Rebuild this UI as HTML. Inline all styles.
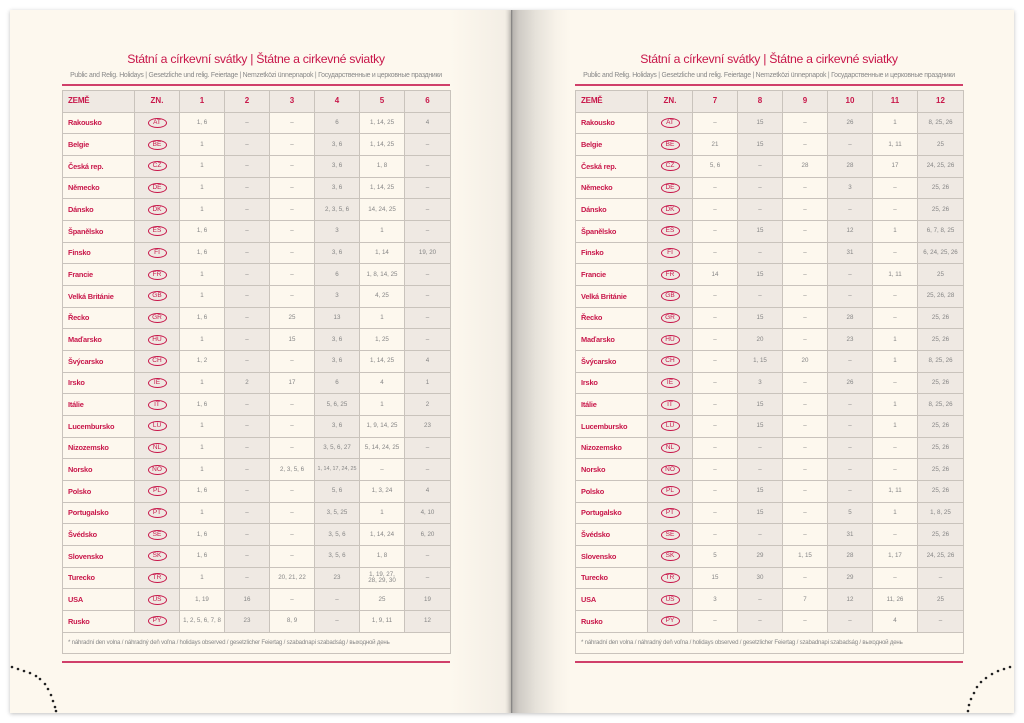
<!DOCTYPE html>
<html><head><meta charset="utf-8"><style>
*{margin:0;padding:0;box-sizing:border-box}
body{width:1024px;height:723px;background:#fff;position:relative;overflow:hidden;font-family:"Liberation Sans",sans-serif}
.pg{position:absolute;top:10px;height:703px;background:#fdf8ee;box-shadow:0 1px 4px rgba(0,0,0,.25)}
#L{left:10px;width:501px;background:linear-gradient(to right,#fdf8ee 0,#fdf8ee 440px,#f3eee5 495px,#d8d3cc 500px)}
#R{left:511px;width:503px;background:linear-gradient(to right,#777 0,#b9b5b0 2px,#cfcbc5 8px,#e6e2da 25px,#f7f2e9 45px,#fdf8ee 60px)}
.t{position:absolute;top:52px;font-size:12.3px;color:#c8174a;text-align:center;width:390px;letter-spacing:-.3px}
.s{position:absolute;top:72px;font-size:6.9px;color:#888;width:390px;text-align:center;letter-spacing:-.25px;white-space:nowrap}
.rl{position:absolute;top:84px;height:2px;background:#d0406a;width:388px}
.rl2{position:absolute;top:661px;height:2px;background:#d0406a;width:388px}
table{position:absolute;top:90px;border-collapse:collapse;table-layout:fixed;width:388px}
td{border:1px solid #c9c3bc;height:21.68px;font-size:6.2px;color:#858585;text-align:center;vertical-align:middle;line-height:1;overflow:hidden;white-space:nowrap}
td:nth-child(1){text-align:left;padding-left:5px;color:#c8174a;font-size:7.4px;font-weight:bold;letter-spacing:-.2px}
td:nth-child(2),td:nth-child(4),td:nth-child(6),td:nth-child(8){background:#efe9e3}
tr.h td{background:#efe9e3;color:#c8174a;font-size:8px;font-weight:bold}
td.f{text-align:left;padding-left:5px;color:#888;font-size:6.1px;font-weight:normal;background:#fdf8ee!important}
i{display:inline-block;vertical-align:middle;font-style:normal;border:1px solid #c8174a;border-radius:50%;color:#c8174a;font-size:6.5px;width:19px;height:10px;line-height:7.5px;text-align:center}
</style></head><body>
<div class="pg" id="L"></div><div class="pg" id="R"></div>
<svg style="position:absolute;left:0;top:0" width="1024" height="723">
<g fill="#222"><circle cx="12" cy="667" r="1.3"/><circle cx="18" cy="669" r="1.3"/><circle cx="24" cy="671" r="1.3"/><circle cx="30" cy="673" r="1.3"/><circle cx="36" cy="676" r="1.3"/><circle cx="40" cy="679" r="1.3"/><circle cx="45" cy="684" r="1.3"/><circle cx="48" cy="689" r="1.3"/><circle cx="51" cy="695" r="1.3"/><circle cx="53" cy="701" r="1.3"/><circle cx="55" cy="707" r="1.3"/><circle cx="56" cy="711" r="1.3"/>
<circle cx="1010" cy="667" r="1.3"/><circle cx="1004" cy="669" r="1.3"/><circle cx="998" cy="671" r="1.3"/><circle cx="992" cy="674" r="1.3"/><circle cx="986" cy="678" r="1.3"/><circle cx="981" cy="682" r="1.3"/><circle cx="977" cy="687" r="1.3"/><circle cx="974" cy="693" r="1.3"/><circle cx="971" cy="699" r="1.3"/><circle cx="969" cy="705" r="1.3"/><circle cx="968" cy="711" r="1.3"/></g></svg>

<div class="t" style="left:61px">Státní a církevní svátky | Štátne a cirkevné sviatky</div>
<div class="s" style="left:61px">Public and Relig. Holidays | Gesetzliche und relig. Feiertage | Nemzetközi ünnepnapok | Государственные и церковные праздники</div>
<div class="rl" style="left:62px"></div>
<div class="rl2" style="left:62px"></div>
<table style="left:62px"><colgroup><col style="width:72px"><col style="width:45px"><col style="width:45px"><col style="width:45px"><col style="width:45px"><col style="width:45px"><col style="width:45px"><col style="width:46px"></colgroup>
<tr class="h"><td>ZEMĚ</td><td>ZN.</td><td>1</td><td>2</td><td>3</td><td>4</td><td>5</td><td>6</td></tr>
<tr><td>Rakousko</td><td><i>AT</i></td><td>1, 6</td><td>–</td><td>–</td><td>6</td><td>1, 14, 25</td><td>4</td></tr>
<tr><td>Belgie</td><td><i>BE</i></td><td>1</td><td>–</td><td>–</td><td>3, 6</td><td>1, 14, 25</td><td>–</td></tr>
<tr><td>Česká rep.</td><td><i>CZ</i></td><td>1</td><td>–</td><td>–</td><td>3, 6</td><td>1, 8</td><td>–</td></tr>
<tr><td>Německo</td><td><i>DE</i></td><td>1</td><td>–</td><td>–</td><td>3, 6</td><td>1, 14, 25</td><td>–</td></tr>
<tr><td>Dánsko</td><td><i>DK</i></td><td>1</td><td>–</td><td>–</td><td>2, 3, 5, 6</td><td>14, 24, 25</td><td>–</td></tr>
<tr><td>Španělsko</td><td><i>ES</i></td><td>1, 6</td><td>–</td><td>–</td><td>3</td><td>1</td><td>–</td></tr>
<tr><td>Finsko</td><td><i>FI</i></td><td>1, 6</td><td>–</td><td>–</td><td>3, 6</td><td>1, 14</td><td>19, 20</td></tr>
<tr><td>Francie</td><td><i>FR</i></td><td>1</td><td>–</td><td>–</td><td>6</td><td>1, 8, 14, 25</td><td>–</td></tr>
<tr><td>Velká Británie</td><td><i>GB</i></td><td>1</td><td>–</td><td>–</td><td>3</td><td>4, 25</td><td>–</td></tr>
<tr><td>Řecko</td><td><i>GR</i></td><td>1, 6</td><td>–</td><td>25</td><td>13</td><td>1</td><td>–</td></tr>
<tr><td>Maďarsko</td><td><i>HU</i></td><td>1</td><td>–</td><td>15</td><td>3, 6</td><td>1, 25</td><td>–</td></tr>
<tr><td>Švýcarsko</td><td><i>CH</i></td><td>1, 2</td><td>–</td><td>–</td><td>3, 6</td><td>1, 14, 25</td><td>4</td></tr>
<tr><td>Irsko</td><td><i>IE</i></td><td>1</td><td>2</td><td>17</td><td>6</td><td>4</td><td>1</td></tr>
<tr><td>Itálie</td><td><i>IT</i></td><td>1, 6</td><td>–</td><td>–</td><td>5, 6, 25</td><td>1</td><td>2</td></tr>
<tr><td>Lucembursko</td><td><i>LU</i></td><td>1</td><td>–</td><td>–</td><td>3, 6</td><td>1, 9, 14, 25</td><td>23</td></tr>
<tr><td>Nizozemsko</td><td><i>NL</i></td><td>1</td><td>–</td><td>–</td><td>3, 5, 6, 27</td><td>5, 14, 24, 25</td><td>–</td></tr>
<tr><td>Norsko</td><td><i>NO</i></td><td>1</td><td>–</td><td>2, 3, 5, 6</td><td style="font-size:5.4px">1, 14, 17, 24, 25</td><td>–</td><td>–</td></tr>
<tr><td>Polsko</td><td><i>PL</i></td><td>1, 6</td><td>–</td><td>–</td><td>5, 6</td><td>1, 3, 24</td><td>4</td></tr>
<tr><td>Portugalsko</td><td><i>PT</i></td><td>1</td><td>–</td><td>–</td><td>3, 5, 25</td><td>1</td><td>4, 10</td></tr>
<tr><td>Švédsko</td><td><i>SE</i></td><td>1, 6</td><td>–</td><td>–</td><td>3, 5, 6</td><td>1, 14, 24</td><td>6, 20</td></tr>
<tr><td>Slovensko</td><td><i>SK</i></td><td>1, 6</td><td>–</td><td>–</td><td>3, 5, 6</td><td>1, 8</td><td>–</td></tr>
<tr><td>Turecko</td><td><i>TR</i></td><td>1</td><td>–</td><td>20, 21, 22</td><td>23</td><td>1, 19, 27,<br>28, 29, 30</td><td>–</td></tr>
<tr><td>USA</td><td><i>US</i></td><td>1, 19</td><td>16</td><td>–</td><td>–</td><td>25</td><td>19</td></tr>
<tr><td>Rusko</td><td><i>PY</i></td><td>1, 2, 5, 6, 7, 8</td><td>23</td><td>8, 9</td><td>–</td><td>1, 9, 11</td><td>12</td></tr>
<tr><td class="f" colspan="8">* náhradní den volna / náhradný deň voľna / holidays observed / gesetzlicher Feiertag / szabadnapi szabadság / выходной день</td></tr>
</table>

<div class="t" style="left:574px">Státní a církevní svátky | Štátne a cirkevné sviatky</div>
<div class="s" style="left:574px">Public and Relig. Holidays | Gesetzliche und relig. Feiertage | Nemzetközi ünnepnapok | Государственные и церковные праздники</div>
<div class="rl" style="left:575px"></div>
<div class="rl2" style="left:575px"></div>
<table style="left:575px"><colgroup><col style="width:72px"><col style="width:45px"><col style="width:45px"><col style="width:45px"><col style="width:45px"><col style="width:45px"><col style="width:45px"><col style="width:46px"></colgroup>
<tr class="h"><td>ZEMĚ</td><td>ZN.</td><td>7</td><td>8</td><td>9</td><td>10</td><td>11</td><td>12</td></tr>
<tr><td>Rakousko</td><td><i>AT</i></td><td>–</td><td>15</td><td>–</td><td>26</td><td>1</td><td>8, 25, 26</td></tr>
<tr><td>Belgie</td><td><i>BE</i></td><td>21</td><td>15</td><td>–</td><td>–</td><td>1, 11</td><td>25</td></tr>
<tr><td>Česká rep.</td><td><i>CZ</i></td><td>5, 6</td><td>–</td><td>28</td><td>28</td><td>17</td><td>24, 25, 26</td></tr>
<tr><td>Německo</td><td><i>DE</i></td><td>–</td><td>–</td><td>–</td><td>3</td><td>–</td><td>25, 26</td></tr>
<tr><td>Dánsko</td><td><i>DK</i></td><td>–</td><td>–</td><td>–</td><td>–</td><td>–</td><td>25, 26</td></tr>
<tr><td>Španělsko</td><td><i>ES</i></td><td>–</td><td>15</td><td>–</td><td>12</td><td>1</td><td>6, 7, 8, 25</td></tr>
<tr><td>Finsko</td><td><i>FI</i></td><td>–</td><td>–</td><td>–</td><td>31</td><td>–</td><td>6, 24, 25, 26</td></tr>
<tr><td>Francie</td><td><i>FR</i></td><td>14</td><td>15</td><td>–</td><td>–</td><td>1, 11</td><td>25</td></tr>
<tr><td>Velká Británie</td><td><i>GB</i></td><td>–</td><td>–</td><td>–</td><td>–</td><td>–</td><td>25, 26, 28</td></tr>
<tr><td>Řecko</td><td><i>GR</i></td><td>–</td><td>15</td><td>–</td><td>28</td><td>–</td><td>25, 26</td></tr>
<tr><td>Maďarsko</td><td><i>HU</i></td><td>–</td><td>20</td><td>–</td><td>23</td><td>1</td><td>25, 26</td></tr>
<tr><td>Švýcarsko</td><td><i>CH</i></td><td>–</td><td>1, 15</td><td>20</td><td>–</td><td>1</td><td>8, 25, 26</td></tr>
<tr><td>Irsko</td><td><i>IE</i></td><td>–</td><td>3</td><td>–</td><td>26</td><td>–</td><td>25, 26</td></tr>
<tr><td>Itálie</td><td><i>IT</i></td><td>–</td><td>15</td><td>–</td><td>–</td><td>1</td><td>8, 25, 26</td></tr>
<tr><td>Lucembursko</td><td><i>LU</i></td><td>–</td><td>15</td><td>–</td><td>–</td><td>1</td><td>25, 26</td></tr>
<tr><td>Nizozemsko</td><td><i>NL</i></td><td>–</td><td>–</td><td>–</td><td>–</td><td>–</td><td>25, 26</td></tr>
<tr><td>Norsko</td><td><i>NO</i></td><td>–</td><td>–</td><td>–</td><td>–</td><td>–</td><td>25, 26</td></tr>
<tr><td>Polsko</td><td><i>PL</i></td><td>–</td><td>15</td><td>–</td><td>–</td><td>1, 11</td><td>25, 26</td></tr>
<tr><td>Portugalsko</td><td><i>PT</i></td><td>–</td><td>15</td><td>–</td><td>5</td><td>1</td><td>1, 8, 25</td></tr>
<tr><td>Švédsko</td><td><i>SE</i></td><td>–</td><td>–</td><td>–</td><td>31</td><td>–</td><td>25, 26</td></tr>
<tr><td>Slovensko</td><td><i>SK</i></td><td>5</td><td>29</td><td>1, 15</td><td>28</td><td>1, 17</td><td>24, 25, 26</td></tr>
<tr><td>Turecko</td><td><i>TR</i></td><td>15</td><td>30</td><td>–</td><td>29</td><td>–</td><td>–</td></tr>
<tr><td>USA</td><td><i>US</i></td><td>3</td><td>–</td><td>7</td><td>12</td><td>11, 26</td><td>25</td></tr>
<tr><td>Rusko</td><td><i>PY</i></td><td>–</td><td>–</td><td>–</td><td>–</td><td>4</td><td>–</td></tr>
<tr><td class="f" colspan="8">* náhradní den volna / náhradný deň voľna / holidays observed / gesetzlicher Feiertag / szabadnapi szabadság / выходной день</td></tr>
</table>
</body></html>
